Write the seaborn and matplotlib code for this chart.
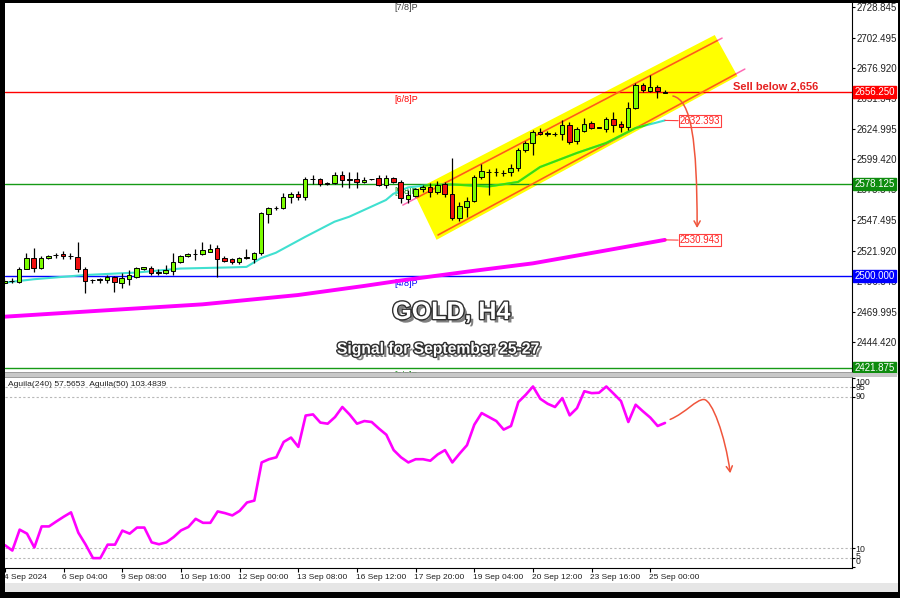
import matplotlib
matplotlib.use("Agg")
import matplotlib.pyplot as plt
import matplotlib.patheffects as pe
import matplotlib.transforms as mtransforms
from matplotlib.patches import Polygon, Rectangle, FancyArrowPatch
from matplotlib.path import Path
import numpy as np
import pandas as pd
import seaborn as sns

# ---- data (H4 bars, 4 Sep - 25 Sep 2024) ----
opens = [2494.6, 2496.3, 2494.8, 2506.2, 2515.8, 2506.8, 2515.3, 2517.8, 2518.7, 2517.0,
         2516.6, 2505.9, 2496.6, 2497.0, 2496.9, 2499.7, 2494.1, 2497.7, 2499.2, 2506.5,
         2507.3, 2503.0, 2503.1, 2504.8, 2512.4, 2517.2, 2518.7, 2518.9, 2520.9, 2523.8,
         2515.3, 2514.4, 2511.9, 2515.8, 2514.4, 2519.5, 2552.9, 2557.9, 2558.3, 2567.6,
         2569.6, 2567.6, 2582.4, 2582.4, 2578.8, 2579.0, 2586.0, 2582.2, 2582.6, 2579.8,
         2582.4, 2583.2, 2577.5, 2583.2, 2579.8, 2565.4, 2568.4, 2574.1, 2575.6, 2571.8,
         2578.0, 2569.9, 2549.3, 2559.1, 2564.0, 2584.0, 2588.5, 2588.3, 2588.0, 2588.3,
         2591.7, 2607.3, 2613.0, 2622.8, 2621.0, 2621.0, 2620.6, 2628.5, 2614.9, 2623.6,
         2630.0, 2626.2, 2624.8, 2633.3, 2629.3, 2626.5, 2642.7, 2662.4, 2657.3, 2661.0,
         2656.0]
highs = [2497.5, 2498.3, 2507.9, 2519.5, 2523.8, 2517.0, 2518.5, 2519.5, 2521.8, 2519.5,
         2529.4, 2507.9, 2497.8, 2498.8, 2501.0, 2500.5, 2502.5, 2505.3, 2507.5, 2508.0,
         2508.5, 2506.5, 2509.3, 2519.5, 2518.0, 2519.5, 2523.2, 2529.4, 2527.2, 2526.6,
         2517.0, 2515.2, 2516.6, 2522.9, 2521.0, 2555.0, 2559.2, 2559.8, 2571.0, 2572.0,
         2572.8, 2584.6, 2586.0, 2583.2, 2580.2, 2589.0, 2589.7, 2588.6, 2588.6, 2584.6,
         2583.0, 2586.0, 2586.0, 2584.6, 2581.5, 2573.0, 2575.0, 2577.6, 2579.0, 2580.7,
         2580.0, 2600.2, 2563.0, 2567.0, 2586.0, 2595.1, 2591.0, 2591.8, 2590.5, 2595.0,
         2609.0, 2614.5, 2624.6, 2626.0, 2623.0, 2622.5, 2632.7, 2631.0, 2627.0, 2634.2,
         2631.5, 2627.0, 2635.5, 2639.8, 2631.5, 2648.3, 2663.9, 2663.9, 2670.9, 2662.5,
         2658.5]
lows = [2493.5, 2494.0, 2494.0, 2505.9, 2503.9, 2506.0, 2514.5, 2515.3, 2515.0, 2514.5,
        2503.9, 2485.6, 2494.0, 2494.0, 2494.0, 2486.5, 2489.8, 2492.6, 2498.5, 2505.5,
        2501.5, 2500.9, 2502.0, 2501.0, 2511.5, 2516.0, 2513.8, 2518.5, 2520.5, 2499.7,
        2511.8, 2510.6, 2510.6, 2514.4, 2511.0, 2518.0, 2545.0, 2556.5, 2557.0, 2562.5,
        2564.5, 2565.0, 2578.4, 2577.0, 2577.6, 2578.5, 2575.9, 2574.7, 2574.7, 2578.9,
        2582.0, 2576.7, 2574.7, 2578.9, 2562.0, 2562.0, 2567.5, 2571.8, 2567.0, 2570.2,
        2567.0, 2547.8, 2547.0, 2550.6, 2562.8, 2583.0, 2569.0, 2585.0, 2585.5, 2585.5,
        2589.7, 2605.5, 2603.0, 2620.0, 2619.5, 2619.0, 2615.7, 2612.5, 2612.0, 2622.5,
        2625.5, 2625.8, 2622.8, 2622.8, 2622.8, 2624.2, 2641.7, 2656.9, 2656.4, 2651.2,
        2655.3]
closes = [2496.3, 2496.0, 2506.2, 2515.3, 2506.8, 2515.3, 2517.5, 2518.0, 2517.2, 2517.2,
          2506.2, 2496.0, 2497.2, 2497.0, 2499.2, 2495.4, 2498.3, 2501.1, 2506.8, 2507.5,
          2502.5, 2503.1, 2505.3, 2512.4, 2517.2, 2518.9, 2518.9, 2522.3, 2523.2, 2514.4,
          2513.2, 2512.4, 2515.8, 2516.0, 2519.5, 2553.5, 2557.7, 2558.3, 2567.6, 2569.6,
          2567.1, 2582.4, 2582.6, 2578.4, 2579.0, 2586.0, 2581.8, 2582.4, 2579.8, 2581.8,
          2582.8, 2577.5, 2583.2, 2579.8, 2566.2, 2569.0, 2573.9, 2575.6, 2571.8, 2577.5,
          2569.5, 2549.3, 2560.0, 2564.0, 2584.6, 2589.4, 2588.8, 2588.5, 2587.5, 2591.7,
          2607.3, 2613.0, 2622.8, 2620.6, 2621.3, 2620.8, 2628.5, 2614.3, 2624.8, 2629.1,
          2626.2, 2626.4, 2633.3, 2628.5, 2626.5, 2642.7, 2662.4, 2658.2, 2661.0, 2657.3,
          2656.3]

# Aguila oscillator, one value per bar
aguila = [11.7, 8.9, 19.9, 17.8, 10.5, 21.6, 21.6, 24.2, 26.7, 29.0,
          18.3, 12.0, 4.9, 4.9, 12.0, 12.0, 19.4, 17.8, 21.0, 21.0,
          13.2, 12.2, 13.2, 16.0, 19.5, 21.3, 25.6, 23.5, 23.5, 29.5,
          28.6, 27.4, 29.8, 34.2, 35.2, 55.3, 57.0, 58.0, 66.1, 68.4,
          63.5, 80.0, 80.6, 76.3, 75.7, 79.2, 84.5, 80.5, 75.7, 77.1,
          76.6, 73.1, 69.9, 61.8, 58.0, 55.3, 57.0, 57.0, 56.2, 59.5,
          61.8, 55.3, 60.0, 64.4, 75.2, 81.3, 79.2, 77.1, 72.6, 74.5,
          87.1, 90.9, 95.3, 88.8, 86.2, 84.5, 89.2, 80.1, 83.9, 92.8,
          91.8, 92.0, 95.3, 91.5, 87.6, 76.6, 85.7, 82.2, 78.9, 74.5,
          76.1]

# moving averages (read at some bars)
fast_ma_bars = [0, 4, 11, 18, 24, 31, 33, 35, 37, 41, 45, 47, 52, 53, 55, 58, 61,
                66, 70, 73, 78, 82, 86, 90]
fast_ma_vals = [2494.6, 2497.5, 2501.1, 2503.2, 2506.6, 2507.6, 2508.0, 2515.5, 2520.0,
                2533.5, 2546.4, 2550.6, 2564.8, 2570.0, 2575.5, 2577.5, 2578.0, 2576.3,
                2580.1, 2592.8, 2604.7, 2613.2, 2625.9, 2632.393]
slow_ma_bars = [0, 13, 27, 40, 49, 54, 63, 72, 81, 90]
slow_ma_vals = [2465.7, 2470.8, 2476.2, 2484.1, 2491.8, 2496.4, 2503.9, 2511.0,
                2520.9, 2530.943]

date_labels = ["4 Sep 2024", "6 Sep 04:00", "9 Sep 08:00", "10 Sep 16:00", "12 Sep 00:00",
               "13 Sep 08:00", "16 Sep 12:00", "17 Sep 20:00", "19 Sep 04:00",
               "20 Sep 12:00", "23 Sep 16:00", "25 Sep 00:00"]
price_ticks = [2728.845, 2702.495, 2676.920, 2651.345, 2624.995, 2599.420, 2573.845,
               2547.495, 2521.920, 2496.345, 2469.995, 2444.420, 2418.845]
level_names = ["[7/8]P", "[6/8]P", "[5/8]P", "[4/8]P", "[3/8]P"]
level_values = [2734.375, 2656.250, 2578.125, 2500.000, 2421.875]
level_colors = ["#404040", "#FF0000", "#169A16", "#0000FF", "#169A16"]
osc_levels = [100, 95, 90, 10, 5, 0]

# channel drawn on the chart (bar index, price)
channel_upper = [(54.3, 2560.5), (97.8, 2702.3)]
channel_lower = [(59.1, 2535.1), (100.9, 2676.0)]
channel_box = [(55.7, 2572.4), (96.8, 2704.9), (99.9, 2670.0), (58.9, 2531.0)]

GREEN = "#7CFC00"
RED = "#F01010"
ARROW = "#F0553C"
YELLOW = (1.0, 1.0, 0.0)


def under_yellow(color):
    r, g, b = matplotlib.colors.to_rgb(color)
    return (r * YELLOW[0], g * YELLOW[1], b * YELLOW[2])


sns.set_theme(style="white")
plt.rcParams["font.family"] = ["Liberation Sans", "DejaVu Sans"]

W, H = 900, 598
fig = plt.figure(figsize=(W / 100, H / 100), dpi=100)
ax1 = fig.add_axes([5 / W, 1 - 373 / H, 847 / W, 370 / H])
ax2 = fig.add_axes([5 / W, 1 - 568 / H, 847 / W, 191 / H])

n = len(opens)
df = pd.DataFrame({"bar": np.arange(n), "open": opens, "high": highs,
                   "low": lows, "close": closes})
up = df["close"] >= df["open"]

# ---- main price panel ----
ax1.set_xlim(0.1, 115.5)
ax1.set_ylim(2417.9, 2732.1)

poly = Polygon(channel_box, closed=True, facecolor="yellow", edgecolor="none", zorder=1)
ax1.add_patch(poly)

for (x0, y0), (x1, y1) in [channel_upper, channel_lower]:
    ax1.plot([x0, x1], [y0, y1], color="#FF69B4", lw=1.1, zorder=2)
    ln, = ax1.plot([x0, x1], [y0, y1], color=under_yellow("#FF69B4"), lw=1.1, zorder=2.1)
    ln.set_clip_path(poly)

for name, val, col in zip(level_names, level_values, level_colors):
    ax1.axhline(val, color=col, lw=1.0, zorder=1.5)
    ax1.annotate(name, xy=(53.2, val), xytext=(0, -2.0), textcoords="offset points",
                 ha="left", va="top", fontsize=6.5, color=col, annotation_clip=False,
                 clip_on=True, zorder=1.6)

fast = pd.DataFrame({"bar": fast_ma_bars, "ma": fast_ma_vals})
slow = pd.DataFrame({"bar": slow_ma_bars, "ma": slow_ma_vals})
sns.lineplot(data=slow, x="bar", y="ma", ax=ax1, color="#FF00FF", lw=2.8, zorder=2.5)
sns.lineplot(data=fast, x="bar", y="ma", ax=ax1, color="#40E0D0", lw=1.5, zorder=2.5)
sns.lineplot(data=fast, x="bar", y="ma", ax=ax1, color=under_yellow("#40E0D0"), lw=1.5,
             zorder=2.6)
ax1.lines[-1].set_clip_path(poly)

# candles
ax1.vlines(df["bar"], df["low"], df["high"], color="black", lw=0.9, zorder=3)
body_low = np.minimum(df["open"], df["close"])
body_h = np.maximum((df["close"] - df["open"]).abs(), 0.3)
ax1.bar(df["bar"], body_h, bottom=body_low, width=0.62,
        color=np.where(up, GREEN, RED), edgecolor="black", linewidth=0.7, zorder=4)

# right price axis
ax1.yaxis.tick_right()
ax1.set_yticks(price_ticks)
ax1.set_yticklabels([f"{v:.3f}" for v in price_ticks])
ax1.tick_params(axis="y", direction="out", length=2.5, width=0.8, pad=1, labelsize=7,
                labelcolor="#202020", color="black", right=True)
ax1.set_xticks([])
ax1.set_xlabel("")
ax1.set_ylabel("")

blend1 = mtransforms.blended_transform_factory(ax1.transAxes, ax1.transData)
box_colors = {2656.250: "#FF0000", 2578.125: "#0E8C0E", 2500.000: "#0000FF",
              2421.875: "#0E8C0E"}
for val, col in box_colors.items():
    ax1.text(1.0025, val, f"{val:.3f}", transform=blend1, ha="left", va="center",
             fontsize=7, color="white", zorder=10, clip_on=False,
             bbox=dict(boxstyle="square,pad=0.12", fc=col, ec=col))

# price tags at the ends of the moving averages
for ma_bar, ma_val in [(fast_ma_bars[-1], fast_ma_vals[-1]), (slow_ma_bars[-1], slow_ma_vals[-1])]:
    ax1.annotate(f"{ma_val:.3f}", xy=(ma_bar, ma_val), xytext=(92.0, ma_val - 0.5),
                 ha="left", va="center", fontsize=7, color="#FF2020", zorder=6,
                 arrowprops=dict(arrowstyle="-", color="#FF4040", lw=0.8,
                                 shrinkA=0, shrinkB=0),
                 bbox=dict(boxstyle="square,pad=0.1", fc="white", ec="#FF4040", lw=0.8))

ax1.text(99.3, 2661.6, "Sell below 2,656", fontsize=8, fontweight="bold", color="#E52020",
         ha="left", va="center", zorder=6)

# forecast arrow on the price panel
main_path = Path([(91.1, 2653.1), (93.6, 2649.7), (94.4, 2615.0), (94.4, 2541.0)],
                 [Path.MOVETO, Path.CURVE4, Path.CURVE4, Path.CURVE4])
ax1.add_patch(FancyArrowPatch(path=main_path, arrowstyle="->,head_length=4,head_width=2.2",
                              color=ARROW, lw=1.1, zorder=6))

shadow = [pe.SimplePatchShadow(offset=(2.5, -2.5), shadow_rgbFace="#606060", alpha=0.8),
          pe.Stroke(linewidth=2.0, foreground="#303030"), pe.Normal()]
ax1.text(60.9, 2469.7, "GOLD, H4", fontsize=18, fontweight="bold", color="white",
         ha="center", va="center", zorder=7, path_effects=shadow)
ax1.text(59.2, 2438.3, "Signal for September 25-27", fontsize=11.3, fontweight="bold",
         color="white", ha="center", va="center", zorder=7, path_effects=shadow)

for side in ["top", "left"]:
    ax1.spines[side].set_visible(False)
ax1.spines["right"].set_color("black")
ax1.spines["right"].set_linewidth(0.8)
ax1.spines["bottom"].set_color("#909090")

# ---- oscillator panel ----
osc = pd.DataFrame({"bar": np.arange(n), "aguila": aguila})
sns.lineplot(data=osc, x="bar", y="aguila", ax=ax2, color="#FF00FF", lw=1.9, zorder=3)
ax2.set_xlim(0.1, 115.5)
ax2.set_ylim(-0.3, 100.3)
for lv in [95, 90, 10, 5]:
    ax2.axhline(lv, color="#B8B8B8", lw=0.8, ls=(0, (2, 2)), zorder=1)

osc_path = Path([(90.7, 77.95), (92.9, 81.6), (94.2, 88.45), (95.3, 88.45),
                 (96.4, 88.45), (98.2, 69.5), (98.9, 49.6)],
                [Path.MOVETO, Path.CURVE4, Path.CURVE4, Path.CURVE4,
                 Path.CURVE4, Path.CURVE4, Path.CURVE4])
ax2.add_patch(FancyArrowPatch(path=osc_path, arrowstyle="->,head_length=4,head_width=2.2",
                              color=ARROW, lw=1.1, zorder=4))

ax2.text(0.004, 1 - 8 / 191, "Aguila(240) 57.5653  Aguila(50) 103.4839",
         transform=ax2.transAxes, ha="left", va="center", fontsize=6.1, color="#202020")

ax2.yaxis.tick_right()
ax2.set_yticks(osc_levels)
ax2.set_yticklabels([""] * len(osc_levels))
ax2.tick_params(axis="y", direction="out", length=2.5, width=0.8, color="black", right=True)
blend2 = mtransforms.blended_transform_factory(ax2.transAxes, ax2.transData)
for lv, ypos in zip(osc_levels, [97.3, 94.6, 90.0, 9.4, 5.8, 3.2]):
    ax2.text(1.004, ypos, str(lv), transform=blend2, ha="left", va="center", fontsize=6.3,
             color="#202020", clip_on=False)

date_pos = list(range(0, 8 * len(date_labels), 8))
ax2.set_xticks(date_pos)
ax2.set_xticklabels(date_labels, ha="left")
ax2.tick_params(axis="x", direction="out", length=3, width=0.8, pad=1.5, labelsize=6,
                labelcolor="#202020", color="black", bottom=True)
offset = mtransforms.ScaledTranslation(-1.5 / 100, 0, fig.dpi_scale_trans)
for lab in ax2.get_xticklabels():
    lab.set_transform(lab.get_transform() + offset)
ax2.set_xlabel("")
ax2.set_ylabel("")
ax2.spines["left"].set_visible(False)
ax2.spines["top"].set_color("#909090")
for side in ["right", "bottom"]:
    ax2.spines[side].set_color("black")
    ax2.spines[side].set_linewidth(0.8)

# ---- terminal window frame ----
frame = [((5 / W, 1 - 377 / H), 892 / W, 4 / H, "#C8C8C8"),
         ((0, 6 / H), 1, 9 / H, "#E6E6E6"),
         ((0, 0), 1, 6 / H, "black"),
         ((0, 0), 4.5 / W, 1, "black"),
         ((0, 1 - 3 / H), 1, 3 / H, "black"),
         ((897.5 / W, 0), 2.5 / W, 1, "black")]
for xy, w, h, col in frame:
    fig.patches.append(Rectangle(xy, w, h, transform=fig.transFigure, facecolor=col,
                                 edgecolor="none", zorder=0 if col == "#E6E6E6" else 20))

fig.savefig("out.png", dpi=100, facecolor="white")
